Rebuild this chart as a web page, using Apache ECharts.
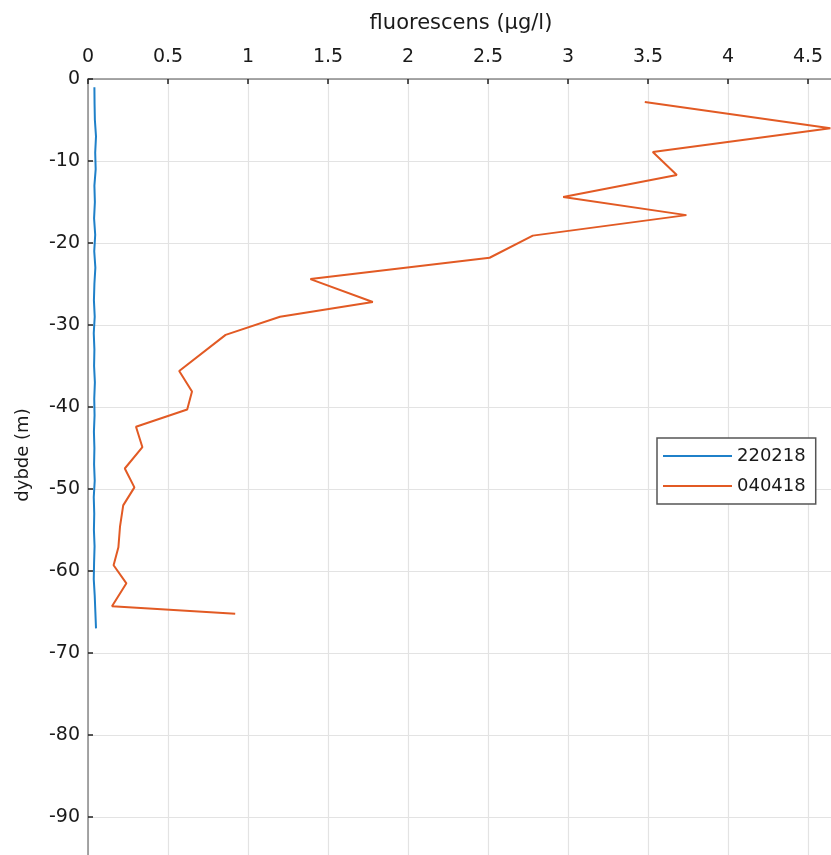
<!DOCTYPE html>
<html>
<head>
<meta charset="utf-8">
<script src="https://cdn.jsdelivr.net/npm/echarts@6/dist/echarts.min.js"></script>
<style>html,body{margin:0;padding:0;background:#fff;}#c{width:831px;height:855px;}</style>
</head>
<body>
<div id="c"></div>
<script>
// Series 220218 (blue): depth (m) and fluorescence (µg/l)
const blueDepth = [-1,-3,-5,-7,-9,-11,-13,-15,-17,-19,-21,-23,-25,-27,-29,-31,-33,-35,-37,-39,-41,-43,-45,-47,-49,-51,-53,-55,-57,-59,-61,-63,-65,-67];
const blueFluor = [0.040,0.041,0.043,0.050,0.045,0.048,0.040,0.043,0.038,0.045,0.039,0.046,0.040,0.037,0.042,0.036,0.040,0.038,0.043,0.039,0.041,0.037,0.040,0.038,0.042,0.036,0.039,0.037,0.041,0.038,0.036,0.042,0.046,0.050];
// Series 040418 (orange)
const orangeDepth = [-2.8,-6.0,-8.9,-11.7,-14.4,-16.6,-19.1,-21.8,-24.4,-27.2,-29.0,-31.2,-35.6,-38.1,-40.3,-42.4,-44.9,-47.5,-49.8,-52.0,-54.6,-57.1,-59.3,-61.5,-64.3,-64.4,-65.2];
const orangeFluor = [3.48,4.64,3.53,3.68,2.97,3.74,2.78,2.51,1.39,1.78,1.20,0.86,0.57,0.65,0.62,0.30,0.34,0.23,0.29,0.22,0.20,0.19,0.16,0.24,0.15,0.14,0.92];
const seriesNames = ['220218','040418'];
const xTitle = 'fluorescens (µg/l)';
const yTitle = 'dybde (m)';

const FONT = 'DejaVu Sans';
const chart = echarts.init(document.getElementById('c'), null, {renderer:'canvas'});
chart.setOption({
  animation:false,
  backgroundColor:'#fff',
  grid:{left:88, top:79, width:800, height:820, containLabel:false, outerBoundsMode:'none'},
  xAxis:{
    type:'value', position:'top', min:0, max:5, interval:0.5,
    axisLine:{show:true, lineStyle:{color:'#8a8a8a', width:1.5}},
    axisTick:{show:true, inside:true, length:5, lineStyle:{color:'#222', width:1.5}},
    axisLabel:{color:'#1a1a1a', fontSize:19, fontFamily:FONT, margin:12},
    splitLine:{show:true, lineStyle:{color:'#e3e3e3', width:1.2}}
  },
  yAxis:{
    type:'value', min:-100, max:0, interval:10,
    axisLine:{show:true, lineStyle:{color:'#8a8a8a', width:1.5}},
    axisTick:{show:true, inside:true, length:5, lineStyle:{color:'#222', width:1.5}},
    axisLabel:{color:'#1a1a1a', fontSize:19, fontFamily:FONT, margin:8},
    splitLine:{show:true, lineStyle:{color:'#e3e3e3', width:1.2}}
  },
  legend:{
    orient:'vertical', left:657, top:438,
    data:seriesNames.map(n=>({name:n, icon:'rect'})),
    backgroundColor:'#fff', borderColor:'#555', borderWidth:1.5, borderRadius:0,
    padding:[8,10,8,6], itemWidth:69, itemHeight:2, itemGap:10,
    textStyle:{color:'#1a1a1a', fontSize:18, fontFamily:FONT, lineHeight:20}
  },
  graphic:[
    {type:'text', x:461, y:24, style:{text:xTitle, fill:'#1a1a1a', font:'21px "DejaVu Sans"', textAlign:'center', textVerticalAlign:'middle'}},
    {type:'text', x:23, y:455, rotation:Math.PI/2, style:{text:yTitle, fill:'#1a1a1a', font:'18px "DejaVu Sans"', textAlign:'center', textVerticalAlign:'middle'}}
  ],
  series:[
    {name:seriesNames[0], type:'line', symbol:'none', data:blueFluor.map((v,i)=>[v, blueDepth[i]]), lineStyle:{color:'#1f80c9', width:2}, itemStyle:{color:'#1f80c9'}},
    {name:seriesNames[1], type:'line', symbol:'none', data:orangeFluor.map((v,i)=>[v, orangeDepth[i]]), lineStyle:{color:'#e25a24', width:2}, itemStyle:{color:'#e25a24'}}
  ]
});
</script>
</body>
</html>
